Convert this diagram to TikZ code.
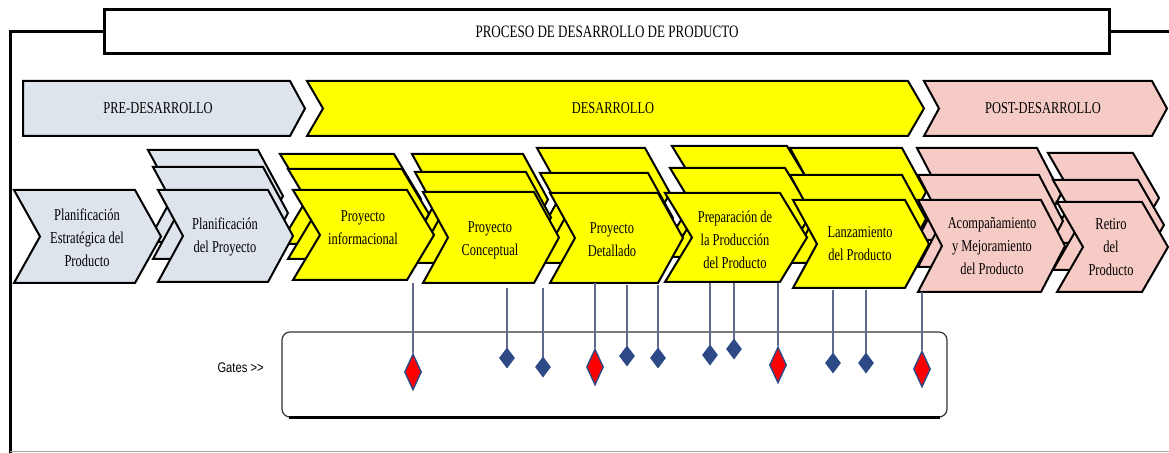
\documentclass[tikz,border=0pt]{standalone}
\usepackage{fontspec}
\setmainfont{Liberation Serif}[FakeStretch=0.75]
\newfontfamily\gatesfont{Liberation Sans}[FakeStretch=0.8]
\usetikzlibrary{shapes.geometric}
\definecolor{predev}{RGB}{221,228,236}
\definecolor{devyel}{RGB}{255,255,0}
\definecolor{postdev}{RGB}{247,203,197}
\definecolor{gateblue}{RGB}{46,74,134}
\definecolor{gatered}{RGB}{255,0,0}
\definecolor{gateline}{RGB}{96,104,140}
\definecolor{framegray}{RGB}{170,170,170}
\newcommand\chevpath[6]{\path[#6] (#1,#2) -- ++(#3,0) -- ++(#5,{#4/2}) -- ++({-#5},{#4/2}) -- ++({-#3},0) -- ++(#5,{-#4/2}) -- cycle;}
\begin{document}
\begin{tikzpicture}[x=0.5pt,y=-0.5pt,
  chevpre/.style={draw=black, line width=1pt, fill=predev, line join=miter},
  chevdev/.style={draw=black, line width=1pt, fill=devyel, line join=miter},
  chevpost/.style={draw=black, line width=1pt, fill=postdev, line join=miter},
  steptext/.style={align=center, inner sep=0pt, font=\fontsize{8.3}{11.5}\selectfont},
  phasetext/.style={inner sep=0pt, font=\fontsize{8.3}{10}\selectfont},
  titlebox/.style={draw=black, line width=1.5pt, fill=white, minimum width=502.5pt, minimum height=22pt, inner sep=0pt, font=\fontsize{8.7}{10}\selectfont},
  gatesbox/.style={draw=black!80, line width=0.6pt, rounded corners=4pt, minimum width=332.5pt, minimum height=42.5pt, inner sep=0pt},
  gatestext/.style={inner sep=0pt, font=\gatesfont\fontsize{7}{8}\selectfont},
  gatesmall/.style={diamond, draw=gateblue, fill=gateblue, minimum width=7.5pt, minimum height=10pt, inner sep=0pt},
  gatebig/.style={diamond, draw=gateblue, line width=0.7pt, fill=gatered, minimum width=8.5pt, minimum height=18pt, inner sep=0pt},
  gateconn/.style={draw=gateline, line width=0.8pt}]
\useasboundingbox (0,0) rectangle (1169,453);
% frame
\draw[line width=1.5pt] (10,453) -- (10,32) -- (103,32);
\draw[line width=1.5pt] (1108,32) -- (1169,32);
\draw[framegray, line width=0.5pt] (10,452) -- (1169,452);
\node[titlebox, anchor=north west] (title) at (103,8) {PROCESO DE DESARROLLO DE PRODUCTO};
% phases
\path[chevpre] (23,81) -- (290,81) -- (305,108.5) -- (290,136) -- (23,136) -- cycle;
\node[phasetext] (pre) at (158,108) {PRE-DESARROLLO};
\chevpath{307}{81}{601}{55}{16}{chevdev}
\node[phasetext] (des) at (613,108) {DESARROLLO};
\chevpath{924}{81}{228}{55}{15}{chevpost}
\node[phasetext] (post) at (1043,108) {POST-DESARROLLO};
% back layer (top copies)
\chevpath{148}{150}{110}{92}{25}{chevpre}
\chevpath{280}{154}{114}{90}{27}{chevdev}
\chevpath{412}{154}{111}{91}{25}{chevdev}
\chevpath{537}{148}{108}{90}{25}{chevdev}
\chevpath{672}{146}{115}{89}{27}{chevdev}
\chevpath{790}{148}{112}{88}{24}{chevdev}
\chevpath{917}{148}{120}{92}{24}{chevpost}
\chevpath{1048}{153}{85}{90}{26}{chevpost}
% middle layer
\chevpath{153}{167}{110}{92}{25}{chevpre}
\chevpath{288}{169}{114}{90}{27}{chevdev}
\chevpath{415}{172}{111}{91}{25}{chevdev}
\chevpath{540}{173}{108}{90}{25}{chevdev}
\chevpath{670}{168}{115}{89}{27}{chevdev}
\chevpath{790}{175}{112}{88}{24}{chevdev}
\chevpath{918}{175}{121}{92}{24}{chevpost}
\chevpath{1053}{180}{85}{90}{26}{chevpost}
% front layer
\chevpath{14}{190}{121}{93}{26}{chevpre}
\chevpath{158}{190}{110}{92}{25}{chevpre}
\chevpath{293}{190}{114}{90}{27}{chevdev}
\chevpath{423}{192}{111}{91}{25}{chevdev}
\chevpath{550}{193}{108}{90}{25}{chevdev}
\chevpath{665}{193}{115}{89}{27}{chevdev}
\chevpath{793}{200}{112}{88}{24}{chevdev}
\chevpath{918}{200}{123}{92}{24}{chevpost}
\chevpath{1057}{202}{85}{90}{26}{chevpost}
\node[steptext] (s1) at (87,238) {Planificación\\Estratégica del\\Producto};
\node[steptext] (s2) at (225,237) {Planificación\\del Proyecto};
\node[steptext] (s3) at (363,228) {Proyecto\\informacional};
\node[steptext] (s4) at (490,240) {Proyecto\\Conceptual};
\node[steptext] (s5) at (612,240) {Proyecto\\Detallado};
\node[steptext] (s6) at (735,240) {Preparación de\\la Producción\\del Producto};
\node[steptext] (s7) at (860,244) {Lanzamiento\\del Producto};
\node[steptext] (s8) at (992,246) {Acompañamiento\\y Mejoramiento\\del Producto};
\node[steptext] (s9) at (1111,247) {Retiro\\del\\Producto};
% gates
\node[gatesbox] (gbox) at (614.5,374.5) {};
\draw[line width=1.2pt] ([xshift=4pt]gbox.south west) -- ([xshift=-4pt]gbox.south east);
\node[gatestext, anchor=east] (glabel) at (264,368) {Gates >{}>};
\coordinate (t1) at (413,283);
\coordinate (t2) at (507,288);
\coordinate (t3) at (543,288);
\coordinate (t4) at (595,283);
\coordinate (t5) at (627,285);
\coordinate (t6) at (658,285);
\coordinate (t7) at (710,283);
\coordinate (t8) at (734,283);
\coordinate (t9) at (778,283);
\coordinate (t10) at (833,290);
\coordinate (t11) at (866,290);
\coordinate (t12) at (922,292);
\node[gatebig] (g1) at (413,372) {};
\node[gatesmall] (g2) at (507,358) {};
\node[gatesmall] (g3) at (543,367) {};
\node[gatebig] (g4) at (595,367) {};
\node[gatesmall] (g5) at (627,356) {};
\node[gatesmall] (g6) at (658,358) {};
\node[gatesmall] (g7) at (710,355) {};
\node[gatesmall] (g8) at (734,349) {};
\node[gatebig] (g9) at (778,365) {};
\node[gatesmall] (g10) at (833,363) {};
\node[gatesmall] (g11) at (866,363) {};
\node[gatebig] (g12) at (922,369) {};
\foreach \i in {1,...,12} {\draw[gateconn] (t\i) -- (g\i.north);}
\end{tikzpicture}
\end{document}
